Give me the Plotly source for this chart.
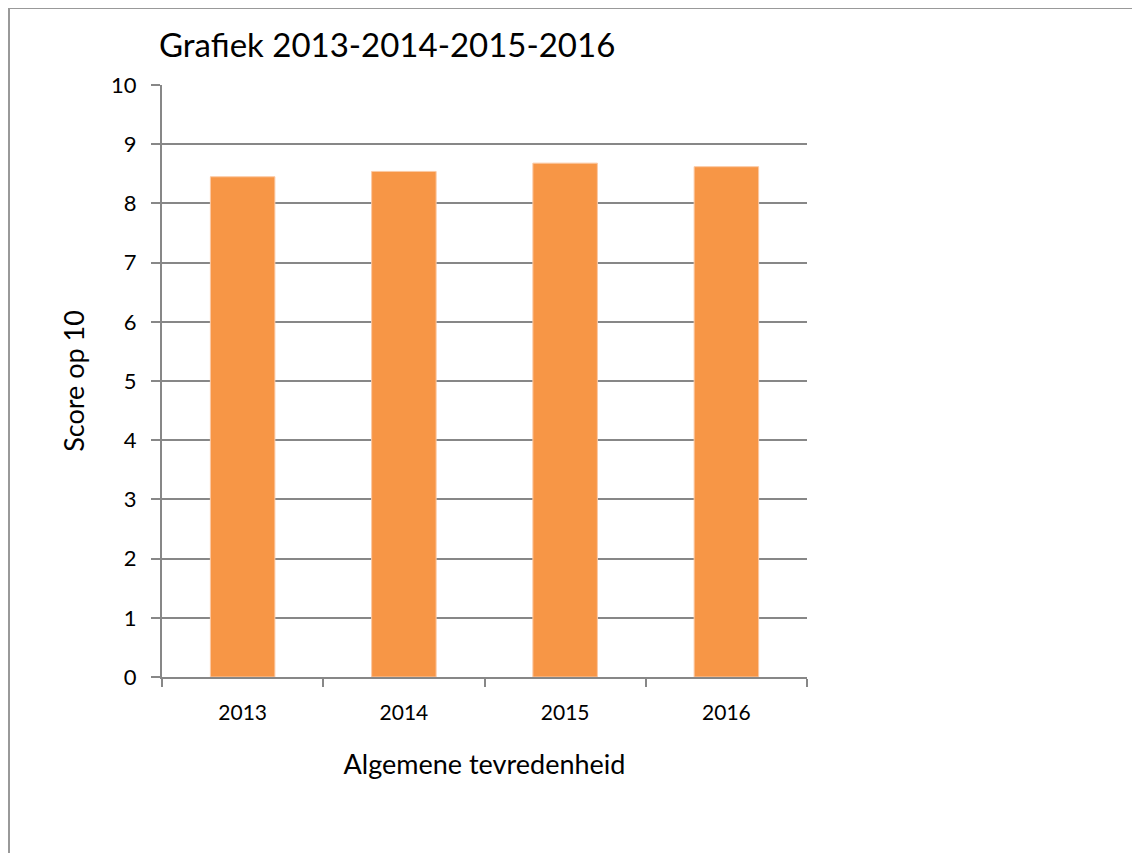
import plotly.graph_objects as go

categories = ["2013", "2014", "2015", "2016"]
scores = [8.45, 8.54, 8.68, 8.62]
y_ticks = list(range(0, 11))

FONT = "Lato"
GRAY = "#878787"
OFF = 8  # page body margin

L, R, T, B = 162 - OFF, 807 - OFF, 85 - OFF, 677 - OFF
W, H = 1140, 853
PW, PH = R - L, B - T

fig = go.Figure()
fig.add_trace(go.Bar(
    x=categories, y=scores,
    marker=dict(color="#F79646", line=dict(color="#FBC9A4", width=1)),
    width=0.40,
))

fig.update_layout(
    width=W, height=H,
    margin=dict(l=L, r=W - R, t=T, b=H - B),
    paper_bgcolor="white", plot_bgcolor="white",
    showlegend=False,
    font=dict(family=FONT, color="black"),
    title=dict(text="Grafiek 2013-2014-2015-2016", x=151 / W, xanchor="left",
               y=1 - (45 - OFF) / H, yanchor="middle",
               font=dict(size=33, family=FONT, color="black")),
    xaxis=dict(
        type="category", showline=True, linecolor=GRAY, linewidth=2,
        ticks="outside", tickson="boundaries", ticklen=8, tickcolor=GRAY, tickwidth=2,
        tickfont=dict(size=21), showgrid=False, ticklabelstandoff=16,
        title=dict(text="Algemene tevredenheid", font=dict(size=27), standoff=32),
    ),
    yaxis=dict(
        range=[0, 10], tickvals=y_ticks, showline=True, linecolor=GRAY, linewidth=2,
        ticks="outside", ticklen=9, tickcolor=GRAY, tickwidth=2,
        showgrid=True, gridcolor=GRAY, gridwidth=2, ticklabelstandoff=10,
        tickfont=dict(size=22), zeroline=False,
        title=dict(text="Score op 10", font=dict(size=27), standoff=19),
    ),
    shapes=[dict(type="rect", xref="paper", yref="paper",
                 x0=(1 - L) / PW, x1=2.0, y0=-1.0, y1=(B - 0) / PH,
                 line=dict(color="#999999", width=2), layer="below")],
)

fig.write_html("out.html")
